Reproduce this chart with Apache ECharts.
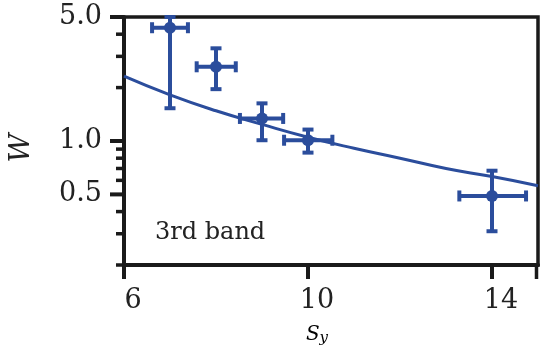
<!DOCTYPE html>
<html><head><meta charset="utf-8">
<script src="https://cdn.jsdelivr.net/npm/echarts@6/dist/echarts.min.js"></script>
<style>html,body{margin:0;padding:0;background:#fff}#c{width:543px;height:353px}</style>
</head><body><div id="c"></div>
<script>
// measured points (Sy, W) with error ranges
const sy   = [7.0, 8.0, 9.0, 10.0, 14.0];
const w    = [4.35, 2.62, 1.34, 1.01, 0.49];
const syLo = [6.61, 7.58, 8.52, 9.48, 13.29];
const syHi = [7.39, 8.43, 9.46, 10.53, 14.74];
const wLo  = [1.53, 1.96, 1.01, 0.86, 0.31];
const wHi  = [5.0, 3.33, 1.63, 1.16, 0.68];
// fitted curve
const fitSy = [6, 7, 8, 9, 10, 11, 12, 13, 14, 15];
const fitW  = [2.32, 1.82, 1.48, 1.24, 1.05, 0.91, 0.80, 0.70, 0.63, 0.56];
// axis ticks
const xTicks = [6, 10, 14];
const xExtraTicks = [15];
const yMajor = [0.5, 1.0, 5.0];
const yMajorLabels = ['0.5', '1.0', '5.0'];
const yMinor = [0.2, 0.3, 0.4, 0.6, 0.7, 0.8, 0.9, 2, 3, 4];

const BLUE = '#2b4d9c';
const INK = '#1a1a1a';
const FONT = 'DejaVu Serif';

const chart = echarts.init(document.getElementById('c'), null, {renderer: 'canvas'});

const tickData = yMajor.map((v, i) => [6, v, 1, i]).concat(yMinor.map(v => [6, v, 0, -1]));

chart.setOption({
  animation: false,
  backgroundColor: '#fff',
  grid: {left: 124, right: 5, top: 17, bottom: 88, show: true, borderColor: INK, borderWidth: 3.5, backgroundColor: 'transparent'},
  xAxis: {
    type: 'value', min: 6, max: 15, interval: 4,
    axisLine: {show: true, lineStyle: {color: INK, width: 4}},
    axisTick: {show: true, length: 14, lineStyle: {color: INK, width: 4}},
    axisLabel: {
      fontFamily: FONT, fontSize: 27, color: '#222', margin: 22, padding: [0, 0, 0, 18],
      showMaxLabel: false,
      formatter: v => xTicks.includes(v) ? String(v) : ''
    },
    splitLine: {show: false}
  },
  yAxis: {
    type: 'log', logBase: 10, min: 0.2, max: 5,
    axisLine: {show: true, lineStyle: {color: INK, width: 4}},
    axisTick: {show: false},
    axisLabel: {show: false},
    splitLine: {show: false}
  },
  series: [
    {
      type: 'line', data: fitSy.map((x, i) => [x, fitW[i]]), smooth: true,
      symbol: 'none', lineStyle: {color: BLUE, width: 3}, z: 2
    },
    {
      type: 'custom', z: 3,
      data: sy.map((x, i) => [x, w[i], syLo[i], syHi[i], wLo[i], wHi[i]]),
      encode: {x: 0, y: 1},
      renderItem: function (params, api) {
        const c = api.coord([api.value(0), api.value(1)]);
        const l = api.coord([api.value(2), api.value(1)]);
        const r = api.coord([api.value(3), api.value(1)]);
        const b = api.coord([api.value(0), api.value(4)]);
        const t = api.coord([api.value(0), api.value(5)]);
        const st = {stroke: BLUE, lineWidth: 4, fill: null};
        const cap = 5.5;
        return {
          type: 'group', children: [
            {type: 'line', shape: {x1: l[0], y1: c[1], x2: r[0], y2: c[1]}, style: st},
            {type: 'line', shape: {x1: c[0], y1: b[1], x2: c[0], y2: t[1]}, style: st},
            {type: 'line', shape: {x1: l[0], y1: c[1] - cap, x2: l[0], y2: c[1] + cap}, style: st},
            {type: 'line', shape: {x1: r[0], y1: c[1] - cap, x2: r[0], y2: c[1] + cap}, style: st},
            {type: 'line', shape: {x1: c[0] - cap, y1: b[1], x2: c[0] + cap, y2: b[1]}, style: st},
            {type: 'line', shape: {x1: c[0] - cap, y1: t[1], x2: c[0] + cap, y2: t[1]}, style: st},
            {type: 'circle', shape: {cx: c[0], cy: c[1], r: 6}, style: {fill: BLUE}}
          ]
        };
      }
    },
    {
      type: 'custom', z: 5, clip: false, silent: true,
      data: tickData,
      encode: {x: 0, y: 1},
      renderItem: function (params, api) {
        const p = api.coord([api.value(0), api.value(1)]);
        const major = api.value(2) === 1;
        const len = major ? 14 : 8;
        const children = [
          {type: 'line', shape: {x1: p[0] - len, y1: p[1], x2: p[0], y2: p[1]}, style: {stroke: INK, lineWidth: major ? 4 : 3.5}}
        ];
        if (major) {
          children.push({
            type: 'text',
            style: {x: p[0] - 22, y: p[1], text: yMajorLabels[api.value(3)], align: 'right', verticalAlign: 'middle',
              font: '27px "' + FONT + '"', fill: '#222'}
          });
        }
        return {type: 'group', children: children};
      }
    },
    {
      type: 'custom', z: 5, clip: false, silent: true,
      data: xExtraTicks.map(v => [v, 0.2]),
      encode: {x: 0, y: 1},
      renderItem: function (params, api) {
        const p = api.coord([api.value(0), api.value(1)]);
        return {type: 'line', shape: {x1: p[0] - 1.5, y1: p[1], x2: p[0] - 1.5, y2: p[1] + 14}, style: {stroke: INK, lineWidth: 3.5}};
      }
    }
  ],
  graphic: [
    {type: 'text', left: 155, top: 221, style: {text: '3rd band', font: '24px "' + FONT + '"', fill: '#222'}},
    {type: 'text', x: 22, y: 148, rotation: Math.PI / 2,
      style: {text: 'W', font: 'italic 28px "' + FONT + '"', fill: '#222', align: 'center', verticalAlign: 'middle'}},
    {type: 'text', x: 317, y: 335,
      style: {
        text: '{s|S}{y|y}', align: 'center', verticalAlign: 'middle',
        rich: {
          s: {fontFamily: FONT, fontStyle: 'italic', fontSize: 20, color: '#222'},
          y: {fontFamily: FONT, fontStyle: 'italic', fontSize: 15, color: '#222', padding: [6, 0, 0, 0]}
        }
      }}
  ]
});
</script>
</body></html>
